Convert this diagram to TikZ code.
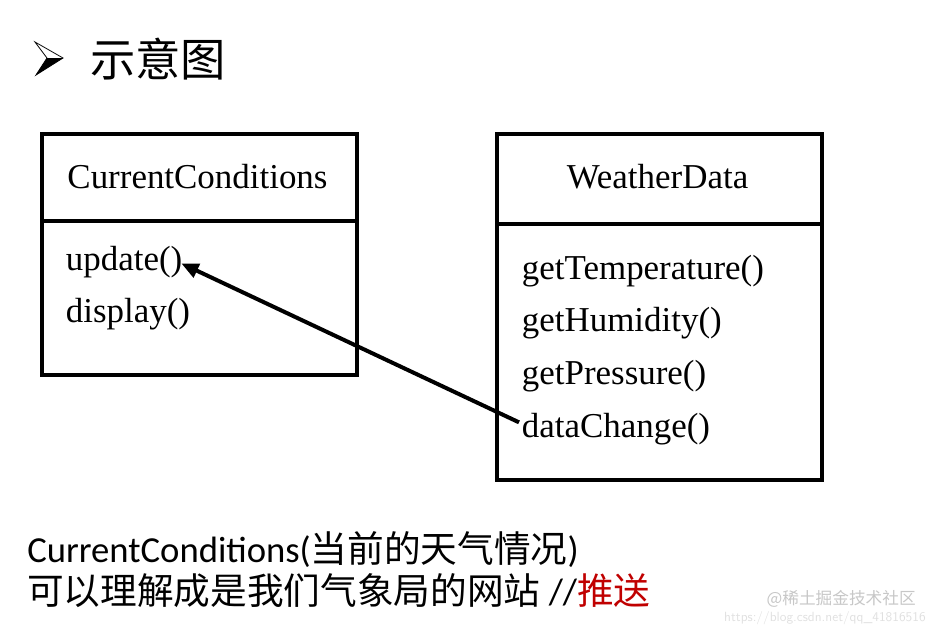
\documentclass[tikz,border=0pt]{standalone}
\usepackage{fontspec}
\setmainfont{Liberation Serif}
\newfontfamily\cjk{Noto Sans CJK SC}
\newfontfamily\calfont{Carlito}
\usetikzlibrary{arrows.meta}
\definecolor{pushred}{HTML}{C00000}
\tikzset{
  classbox/.style={draw=black, line width=3.2pt},
  divider/.style={line width=3.2pt},
  member/.style={anchor=west, inner sep=2pt, font=\fontsize{26.2}{29}\selectfont},
  cname/.style={inner sep=2pt, font=\fontsize{26.2}{29}\selectfont},
  call/.style={line width=3pt, -{Triangle[length=13pt,width=11pt]}},
  note/.style={anchor=west, inner sep=0pt, font=\fontsize{27.5}{32}\selectfont},
  wm/.style={inner sep=0pt, text=black!22},
}
\begin{document}
\begin{tikzpicture}[x=0.75pt, y=-0.75pt]
\useasboundingbox (0,0) rectangle (934,632);
% title bullet
\fill[black] (47,58) -- (63,58) -- (36,75) -- cycle;
\draw[line width=0.6pt, line join=miter] (35,42) -- (63,58) -- (36,75) -- (47,58) -- cycle;
\node[anchor=west, inner sep=0pt, font=\cjk\fontsize{34}{38}\selectfont] (title) at (90,59) {示意图};

% left class box
\node[classbox, minimum width=315*0.75pt, minimum height=241*0.75pt, anchor=north west, inner sep=0pt] (cc) at (40,132) {};
\draw[divider] (40,221) -- (355,221);
\node[cname] (ccname) at (197.5,177) {CurrentConditions};
\node[member] (up) at (63,262) {update()};
\node[member] (disp) at (63,314) {display()};

% right class box
\node[classbox, minimum width=325*0.75pt, minimum height=346*0.75pt, anchor=north west, inner sep=0pt] (wd) at (495,132) {};
\draw[divider] (495,224) -- (820,224);
\node[cname] (wdname) at (657.5,177) {WeatherData};
\node[member] (gt) at (519,271) {getTemperature()};
\node[member] (gh) at (519,323) {getHumidity()};
\node[member] (gp) at (519,376) {getPressure()};
\node[member] (dc) at (519,429) {dataChange()};

% call arrow
\draw[call] ([yshift=5pt]dc.west) -- ([xshift=-3pt,yshift=-1pt]up.east);

% notes
\node[note] (n1) at (27,550) {{\calfont CurrentConditions(}{\cjk 当前的天气情况}{\calfont )}};
\node[note] (n2) at (27,591) {{\cjk 可以理解成是我们气象局的网站 }{\calfont //}{\cjk\color{pushred}推送}};

% watermark
\node[wm, anchor=east, font=\cjk\fontsize{12.5}{14}\selectfont] (wm1) at (916,599) {@稀土掘金技术社区};
\node[wm, anchor=east, text=black!12, font=\fontsize{10}{12}\selectfont\sffamily] (wm2) at (926,618) {https://blog.csdn.net/qq\_41816516};
\end{tikzpicture}
\end{document}
